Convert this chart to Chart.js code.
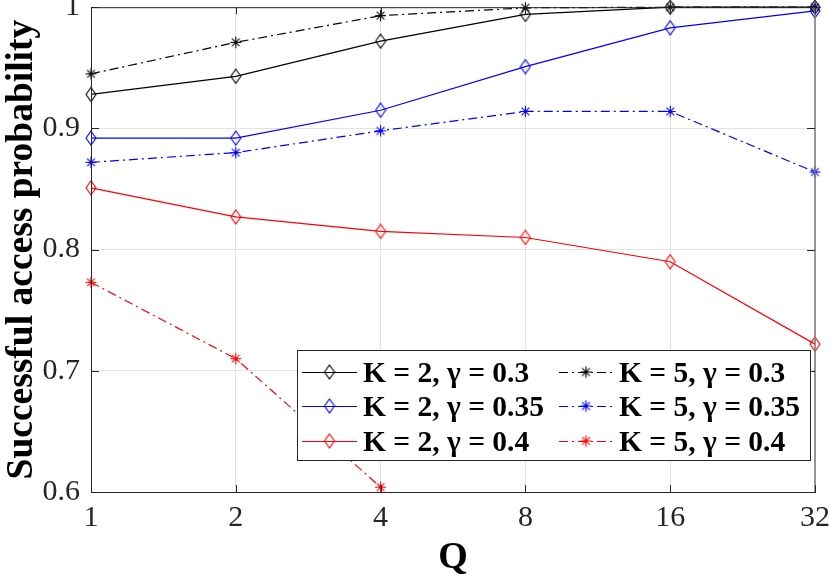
<!DOCTYPE html>
<html><head><meta charset="utf-8">
<script src="https://cdn.jsdelivr.net/npm/chart.js@4.4.0/dist/chart.umd.min.js"></script>
<style>html,body{margin:0;padding:0;background:#fff;overflow:hidden;}</style>
</head><body>
<canvas id="c" width="830" height="581"></canvas>
<script>
const categories = ['1', '2', '4', '8', '16', '32'];
const k2g030 = [0.928, 0.943, 0.972, 0.994, 1.000, 1.000];
const k2g035 = [0.892, 0.892, 0.915, 0.951, 0.983, 0.997];
const k2g040 = [0.851, 0.827, 0.815, 0.810, 0.790, 0.722];
const k5g030 = [0.945, 0.971, 0.993, 0.9995, 1.000, 1.000];
const k5g035 = [0.872, 0.880, 0.898, 0.914, 0.914, 0.864];
const k5g040 = [0.773, 0.710, 0.604, null, null, null];
const seriesLabels = ['K = 2, \u03b3 = 0.3', 'K = 2, \u03b3 = 0.35', 'K = 2, \u03b3 = 0.4',
                      'K = 5, \u03b3 = 0.3', 'K = 5, \u03b3 = 0.35', 'K = 5, \u03b3 = 0.4'];
const yTicks = [0.6, 0.7, 0.8, 0.9, 1];
const xTitle = 'Q';
const yTitle = 'Successful access probability';

const FONT = "'Liberation Serif', 'Times New Roman', serif";
const AX = '#262626';

function makeDiamond(color) {
  const c = document.createElement('canvas');
  c.width = 12; c.height = 16;
  const g = c.getContext('2d');
  g.strokeStyle = color; g.lineWidth = 1.1;
  g.beginPath();
  g.moveTo(6, 1); g.lineTo(11, 8); g.lineTo(6, 15); g.lineTo(1, 8); g.closePath();
  g.stroke();
  return c;
}
function makeStar(color) {
  const c = document.createElement('canvas');
  c.width = 13; c.height = 13;
  const g = c.getContext('2d');
  g.strokeStyle = color; g.lineWidth = 1.1;
  g.beginPath();
  g.moveTo(6.5, 0.8); g.lineTo(6.5, 12.2);
  g.moveTo(1, 6.5); g.lineTo(12, 6.5);
  g.moveTo(2.6, 2.6); g.lineTo(10.4, 10.4);
  g.moveTo(10.4, 2.6); g.lineTo(2.6, 10.4);
  g.stroke();
  return c;
}

const colors = ['#000000', '#0000ff', '#ff0000'];
const DASHDOT = [9, 4, 2, 4];
const seriesData = [k2g030, k2g035, k2g040, k5g030, k5g035, k5g040];

const datasets = seriesData.map((d, i) => {
  const col = colors[i % 3];
  const isK5 = i >= 3;
  const marker = isK5 ? makeStar(col) : makeDiamond(col);
  return {
    label: seriesLabels[i],
    data: d,
    borderColor: col,
    backgroundColor: col,
    borderWidth: 1.2,
    borderDash: isK5 ? DASHDOT : [],
    pointStyle: marker,
    pointRadius: 6,
    pointHoverRadius: 6,
    tension: 0,
    spanGaps: false,
    clip: false,
    _marker: marker
  };
});

const framePlugin = {
  id: 'frame',
  afterDatasetsDraw(chart) {
    const { ctx, chartArea: a, scales } = chart;
    ctx.save();
    ctx.lineWidth = 1;
    ctx.strokeStyle = AX;
    ctx.beginPath(); ctx.moveTo(a.left, a.top + 0.5); ctx.lineTo(a.right, a.top + 0.5); ctx.stroke();
    ctx.beginPath(); ctx.moveTo(a.left + 0.5, a.top); ctx.lineTo(a.left + 0.5, a.bottom); ctx.stroke();
    ctx.beginPath(); ctx.moveTo(a.left, a.bottom + 0.5); ctx.lineTo(a.right, a.bottom + 0.5); ctx.stroke();
    ctx.strokeStyle = '#808080'; ctx.lineWidth = 1.6;
    ctx.beginPath(); ctx.moveTo(a.right, a.top); ctx.lineTo(a.right, a.bottom); ctx.stroke();
    ctx.strokeStyle = AX; ctx.lineWidth = 1;
    const ys = scales.y;
    ys.ticks.forEach(t => {
      const py = Math.round(ys.getPixelForValue(t.value)) + 0.5;
      ctx.beginPath(); ctx.moveTo(a.left, py); ctx.lineTo(a.left + 8, py); ctx.stroke();
      ctx.beginPath(); ctx.moveTo(a.right, py); ctx.lineTo(a.right - 8, py); ctx.stroke();
    });
    const xs = scales.x;
    xs.ticks.forEach((t, i) => {
      const px = Math.round(xs.getPixelForTick(i)) + 0.5;
      ctx.beginPath(); ctx.moveTo(px, a.bottom); ctx.lineTo(px, a.bottom - 7); ctx.stroke();
      ctx.beginPath(); ctx.moveTo(px, a.top); ctx.lineTo(px, a.top + 7); ctx.stroke();
    });
    ctx.restore();
  },
  afterDraw(chart) {
    const { ctx } = chart;
    const box = { l: 297, t: 350, r: 810, b: 460 };
    ctx.save();
    ctx.fillStyle = '#ffffff';
    ctx.fillRect(box.l, box.t, box.r - box.l, box.b - box.t);
    ctx.strokeStyle = AX; ctx.lineWidth = 1;
    ctx.strokeRect(box.l + 0.5, box.t + 0.5, box.r - box.l, box.b - box.t);
    const rows = [372, 406, 441];
    const cols = [{ x0: 302, x1: 357, tx: 363 }, { x0: 559, x1: 613, tx: 619 }];
    ctx.font = 'bold 29.5px ' + FONT;
    ctx.textBaseline = 'alphabetic';
    ctx.textAlign = 'left';
    chart.data.datasets.forEach((ds, i) => {
      const c = cols[Math.floor(i / 3)];
      const y = rows[i % 3];
      ctx.strokeStyle = ds.borderColor;
      ctx.lineWidth = 1.2;
      ctx.setLineDash(ds.borderDash);
      ctx.beginPath(); ctx.moveTo(c.x0, y + 0.5); ctx.lineTo(c.x1, y + 0.5); ctx.stroke();
      ctx.setLineDash([]);
      const m = ds._marker;
      const mx = (c.x0 + c.x1) / 2;
      ctx.drawImage(m, mx - m.width / 2, y - m.height / 2);
      ctx.fillStyle = '#000000';
      ctx.fillText(ds.label, c.tx, y + 10);
    });
    ctx.restore();
  }
};

new Chart(document.getElementById('c'), {
  type: 'line',
  data: { labels: categories, datasets },
  plugins: [framePlugin],
  options: {
    responsive: false,
    animation: false,
    layout: { padding: { top: 6, right: 15, bottom: 0, left: 0 } },
    plugins: { legend: { display: false }, tooltip: { enabled: false } },
    scales: {
      x: {
        type: 'category',
        offset: false,
        grid: { color: '#e3e3e3', lineWidth: 1, drawTicks: false },
        border: { display: true, color: AX, width: 1 },
        ticks: { color: AX, font: { family: FONT, size: 30 }, padding: 8, maxRotation: 0, autoSkip: false },
        title: { display: true, text: xTitle, color: '#000', font: { family: FONT, size: 38, weight: 'bold' }, padding: { top: 0, bottom: 0 } },
        afterFit(s) { s.height = 89; s.paddingLeft = 0; s.paddingRight = 0; }
      },
      y: {
        min: 0.6, max: 1,
        afterBuildTicks(s) { s.ticks = yTicks.map(v => ({ value: v })); },
        grid: { color: '#e3e3e3', lineWidth: 1, drawTicks: false },
        border: { display: true, color: AX, width: 1 },
        ticks: {
          color: AX, font: { family: FONT, size: 30 }, padding: 11,
          callback: v => { const r = Math.round(v * 10) / 10; return r === 1 ? '1' : r.toFixed(1); }
        },
        title: { display: true, text: yTitle, color: '#000', font: { family: FONT, size: 37.5, weight: 'bold' }, padding: { top: 0, bottom: 0 } },
        afterFit(s) { s.width = 91; s.paddingTop = 0; s.paddingBottom = 0; }
      }
    }
  }
});
</script>
</body></html>
